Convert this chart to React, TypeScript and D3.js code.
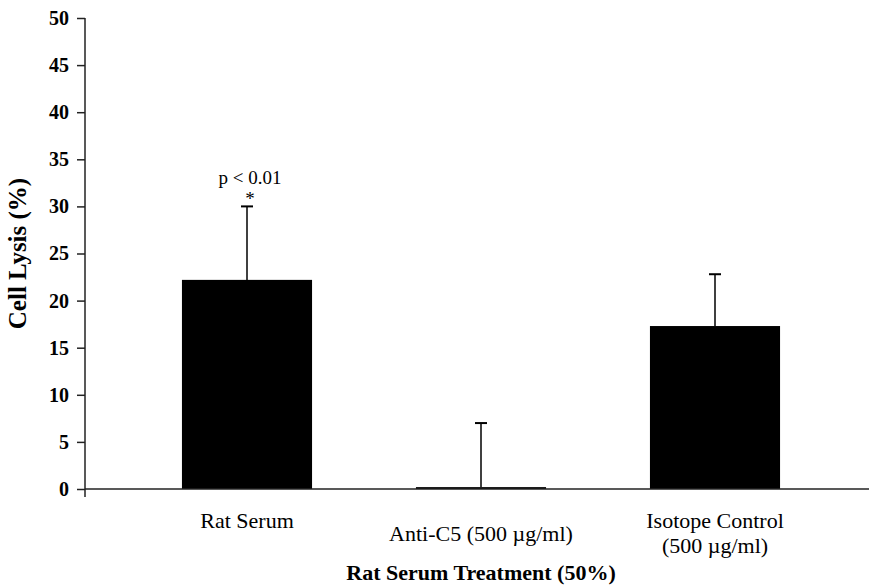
import { useEffect, useRef } from 'react';
import * as d3 from 'd3';

const categories = ['Rat Serum', 'Anti-C5 (500 µg/ml)', 'Isotope Control\n(500 µg/ml)'];
const means = [22.2, 0.2, 17.3];
const errors = [7.8, 6.8, 5.5];
const yTicks = [0, 5, 10, 15, 20, 25, 30, 35, 40, 45, 50];
const labelOffsets = [0, 13, 0];

const FONT = '"Liberation Serif", "Times New Roman", serif';

const App = () => {
  const svgRef = useRef<SVGSVGElement | null>(null);

  useEffect(() => {
    const width = 869;
    const height = 585;
    const svg = d3.select(svgRef.current)
      .attr('width', width)
      .attr('height', height)
      .style('font-family', FONT);
    svg.selectAll('*').remove();

    const axisX = 85;
    const x = d3.scaleBand()
      .domain(categories)
      .range([130, 832])
      .paddingInner(0.444)
      .paddingOuter(0.222);

    const y = d3.scaleLinear().domain([0, 50]).range([489, 18]);

    // bars
    svg.selectAll('.bar')
      .data(categories)
      .enter().append('rect')
      .attr('x', d => x(d)!)
      .attr('y', (d, i) => y(means[i]))
      .attr('width', x.bandwidth())
      .attr('height', (d, i) => y(0) - y(means[i]))
      .attr('fill', '#000');

    // error bars
    const eb = svg.selectAll('.err')
      .data(categories)
      .enter().append('g');
    eb.append('line')
      .attr('x1', d => x(d)! + x.bandwidth() / 2)
      .attr('x2', d => x(d)! + x.bandwidth() / 2)
      .attr('y1', (d, i) => y(means[i]))
      .attr('y2', (d, i) => y(means[i] + errors[i]))
      .attr('stroke', '#000')
      .attr('stroke-width', 1.5);
    eb.append('line')
      .attr('x1', d => x(d)! + x.bandwidth() / 2 - 6)
      .attr('x2', d => x(d)! + x.bandwidth() / 2 + 6)
      .attr('y1', (d, i) => y(means[i] + errors[i]))
      .attr('y2', (d, i) => y(means[i] + errors[i]))
      .attr('stroke', '#000')
      .attr('stroke-width', 2);

    // x baseline
    svg.append('line')
      .attr('x1', axisX).attr('x2', width)
      .attr('y1', y(0)).attr('y2', y(0))
      .attr('stroke', '#222').attr('stroke-width', 1.5);

    // y axis
    const yAxis = svg.append('g')
      .attr('transform', `translate(${axisX},0)`)
      .call(d3.axisLeft(y).tickValues(yTicks).tickSize(8).tickPadding(8).tickSizeOuter(0));
    yAxis.select('.domain').attr('stroke', '#222').attr('stroke-width', 1.5)
      .attr('d', `M0,${y(50)}V${y(0) + 8}`);
    yAxis.selectAll('.tick line').attr('stroke', '#222').attr('stroke-width', 1.5);
    yAxis.selectAll('.tick text')
      .style('font-family', FONT)
      .style('font-size', '20px')
      .style('font-weight', 'bold')
      .attr('fill', '#000');

    // category labels
    categories.forEach((c, i) => {
      const cx = x(c)! + x.bandwidth() / 2;
      const lines = c.split('\n');
      lines.forEach((ln, j) => {
        svg.append('text')
          .attr('x', cx)
          .attr('y', 528 + labelOffsets[i] + j * 25)
          .attr('text-anchor', 'middle')
          .attr('font-size', 22)
          .text(ln);
      });
    });

    // significance annotation
    const rx = x(categories[0])! + x.bandwidth() / 2;
    svg.append('text').attr('x', rx + 3).attr('y', 184)
      .attr('text-anchor', 'middle').attr('font-size', 19).text('p < 0.01');
    svg.append('text').attr('x', rx + 3).attr('y', 205)
      .attr('text-anchor', 'middle').attr('font-size', 19).text('*');

    // axis titles
    svg.append('text')
      .attr('x', (x(categories[0])! + x(categories[2])! + x.bandwidth()) / 2)
      .attr('y', 580)
      .attr('text-anchor', 'middle')
      .attr('font-size', 22)
      .attr('font-weight', 'bold')
      .text('Rat Serum Treatment (50%)');
    svg.append('text')
      .attr('transform', `translate(26,${y(25)}) rotate(-90)`)
      .attr('text-anchor', 'middle')
      .attr('font-size', 25)
      .attr('font-weight', 'bold')
      .text('Cell Lysis (%)');
  }, []);

  return (
    <div style={{ position: 'absolute', left: 0, top: 0 }}>
      <svg ref={svgRef}></svg>
    </div>
  );
};

export default App;
